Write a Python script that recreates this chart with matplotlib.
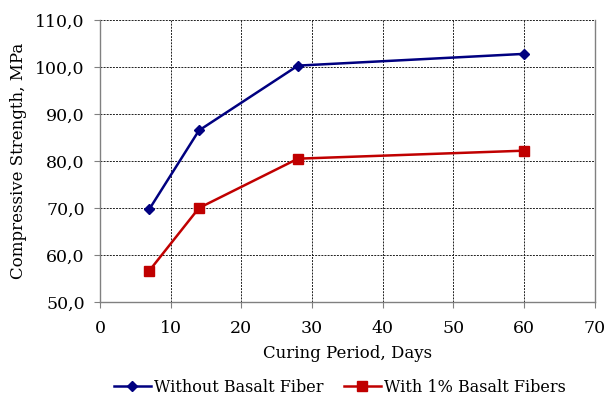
import matplotlib
matplotlib.use("Agg")
import matplotlib.pyplot as plt
from matplotlib.ticker import FuncFormatter

days = [7, 14, 28, 60]
without_fiber = [69.8, 86.5, 100.3, 102.8]
with_fiber = [56.7, 70.0, 80.5, 82.2]

plt.rcParams['font.family'] = ['DejaVu Serif']

fig = plt.figure(figsize=(6.07, 3.96), dpi=100)
ax = fig.add_axes([0.1647, 0.2374, 0.8153, 0.712])

ax.plot(days, without_fiber, color='#000080', marker='D', markersize=5.5,
        linewidth=1.8, label='Without Basalt Fiber')
ax.plot(days, with_fiber, color='#C00000', marker='s', markersize=6.5,
        linewidth=1.8, label='With 1% Basalt Fibers')

ax.set_xlim(0, 70)
ax.set_ylim(50, 110)
ax.set_xticks(range(0, 71, 10))
ax.set_yticks(range(50, 111, 10))
ax.yaxis.set_major_formatter(FuncFormatter(lambda v, p: ('%.1f' % v).replace('.', ',')))

ax.grid(True, color='#202020', linestyle=(0, (2, 1.2)), linewidth=0.7)
for s in ax.spines.values():
    s.set_color('#808080')
    s.set_linewidth(1.0)
ax.spines['top'].set_visible(False)
ax.tick_params(direction='out', length=4, color='#808080', labelsize=12.5)
ax.tick_params(axis='y', pad=7)
ax.tick_params(axis='x', pad=9)

ax.set_xlabel('Curing Period, Days', fontsize=12, labelpad=6)
ax.set_ylabel('Compressive Strength, MPa', fontsize=12, labelpad=6)

fig.legend(loc='center', bbox_to_anchor=(0.56, 1 - 387 / 396), ncol=2, frameon=False,
           fontsize=11.5, handlelength=2.3, columnspacing=1.3, handletextpad=0.2)

fig.savefig('out.png', dpi=100)
